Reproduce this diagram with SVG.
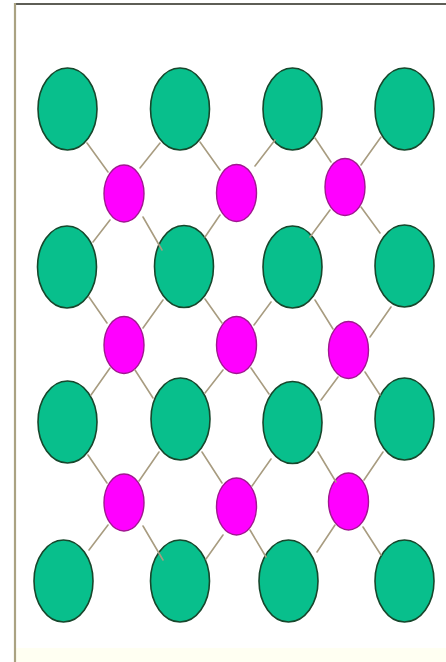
<svg xmlns="http://www.w3.org/2000/svg" width="446" height="662" viewBox="0 0 446 662">
<style>
.g{fill:#08bf8c;stroke:#17472c;stroke-width:1.6}
.m{fill:#ff00ff;stroke:#a01890;stroke-width:1.4}
.c line{stroke:#a89c80;stroke-width:1.6;stroke-linecap:round}
</style>
<rect x="0" y="0" width="446" height="662" fill="#ffffff"/>
<rect x="16" y="648" width="430" height="14" fill="#fffff2"/>
<line x1="15" y1="4" x2="446" y2="4" stroke="#5e5e56" stroke-width="2.2"/>
<line x1="15" y1="3" x2="15" y2="662" stroke="#aaa282" stroke-width="2.2"/>
<g id="nodes">
<g id="g11"><ellipse class="g" cx="67.5" cy="109" rx="29.5" ry="41"/></g>
<g id="g12"><ellipse class="g" cx="180" cy="109" rx="29.5" ry="41"/></g>
<g id="g13"><ellipse class="g" cx="292.5" cy="109" rx="29.5" ry="41"/></g>
<g id="g14"><ellipse class="g" cx="404.5" cy="109" rx="29.5" ry="41"/></g>
<g id="m11"><ellipse class="m" cx="124" cy="193.5" rx="20" ry="28.5"/></g>
<g id="m12"><ellipse class="m" cx="236.5" cy="193" rx="20" ry="28.5"/></g>
<g id="m13"><ellipse class="m" cx="345" cy="187" rx="20" ry="28.5"/></g>
<g id="g21"><ellipse class="g" cx="67" cy="267" rx="29.5" ry="41"/></g>
<g id="g22"><ellipse class="g" cx="184" cy="266.5" rx="29.5" ry="41"/></g>
<g id="g23"><ellipse class="g" cx="292.5" cy="267" rx="29.5" ry="41"/></g>
<g id="g24"><ellipse class="g" cx="404.5" cy="266" rx="29.5" ry="41"/></g>
<g id="m21"><ellipse class="m" cx="124" cy="345" rx="20" ry="28.5"/></g>
<g id="m22"><ellipse class="m" cx="236.5" cy="345" rx="20" ry="28.5"/></g>
<g id="m23"><ellipse class="m" cx="348.5" cy="350" rx="20" ry="28.5"/></g>
<g id="g31"><ellipse class="g" cx="67.5" cy="422" rx="29.5" ry="41"/></g>
<g id="g32"><ellipse class="g" cx="180.5" cy="419" rx="29.5" ry="41"/></g>
<g id="g33"><ellipse class="g" cx="292.5" cy="422.5" rx="29.5" ry="41"/></g>
<g id="g34"><ellipse class="g" cx="404.5" cy="419" rx="29.5" ry="41"/></g>
<g id="m31"><ellipse class="m" cx="124" cy="502.5" rx="20" ry="28.5"/></g>
<g id="m32"><ellipse class="m" cx="236.5" cy="506.5" rx="20" ry="28.5"/></g>
<g id="m33"><ellipse class="m" cx="348.5" cy="501.5" rx="20" ry="28.5"/></g>
<g id="g41"><ellipse class="g" cx="63.5" cy="581" rx="29.5" ry="41"/></g>
<g id="g42"><ellipse class="g" cx="180" cy="581" rx="29.5" ry="41"/></g>
<g id="g43"><ellipse class="g" cx="288.5" cy="581" rx="29.5" ry="41"/></g>
<g id="g44"><ellipse class="g" cx="404.5" cy="581" rx="29.5" ry="41"/></g>
</g>
<g id="connectors" class="c">
<line x1="87" y1="143" x2="108" y2="172"/>
<line x1="160" y1="143" x2="140" y2="168"/>
<line x1="200" y1="142" x2="220" y2="170"/>
<line x1="275" y1="140" x2="255" y2="166"/>
<line x1="315" y1="138" x2="331" y2="162"/>
<line x1="381" y1="137" x2="361" y2="165"/>
<line x1="110" y1="220" x2="93" y2="242"/>
<line x1="143" y1="217" x2="162" y2="250"/>
<line x1="220" y1="215" x2="205" y2="237"/>
<line x1="330" y1="210" x2="310" y2="237"/>
<line x1="361" y1="207" x2="380" y2="233"/>
<line x1="89" y1="297" x2="107" y2="323"/>
<line x1="163" y1="300" x2="143" y2="328"/>
<line x1="205" y1="299" x2="222" y2="323"/>
<line x1="271" y1="302" x2="254" y2="325"/>
<line x1="315" y1="300" x2="333" y2="329"/>
<line x1="391" y1="307" x2="370" y2="337"/>
<line x1="110" y1="368" x2="91" y2="395"/>
<line x1="135" y1="370" x2="153" y2="398"/>
<line x1="223" y1="370" x2="205" y2="393"/>
<line x1="251" y1="368" x2="269" y2="394"/>
<line x1="338" y1="377" x2="321" y2="400"/>
<line x1="365" y1="372" x2="380" y2="395"/>
<line x1="88" y1="455" x2="107" y2="483"/>
<line x1="159" y1="452" x2="139" y2="481"/>
<line x1="202" y1="452" x2="222" y2="483"/>
<line x1="271" y1="459" x2="252" y2="486"/>
<line x1="318" y1="452" x2="336" y2="482"/>
<line x1="383" y1="452" x2="364" y2="480"/>
<line x1="108" y1="525" x2="89" y2="550"/>
<line x1="143" y1="526" x2="163" y2="560"/>
<line x1="223" y1="535" x2="206" y2="559"/>
<line x1="250" y1="530" x2="266" y2="557"/>
<line x1="335" y1="525" x2="317" y2="552"/>
<line x1="363" y1="527" x2="381" y2="555"/>
</g>
</svg>
